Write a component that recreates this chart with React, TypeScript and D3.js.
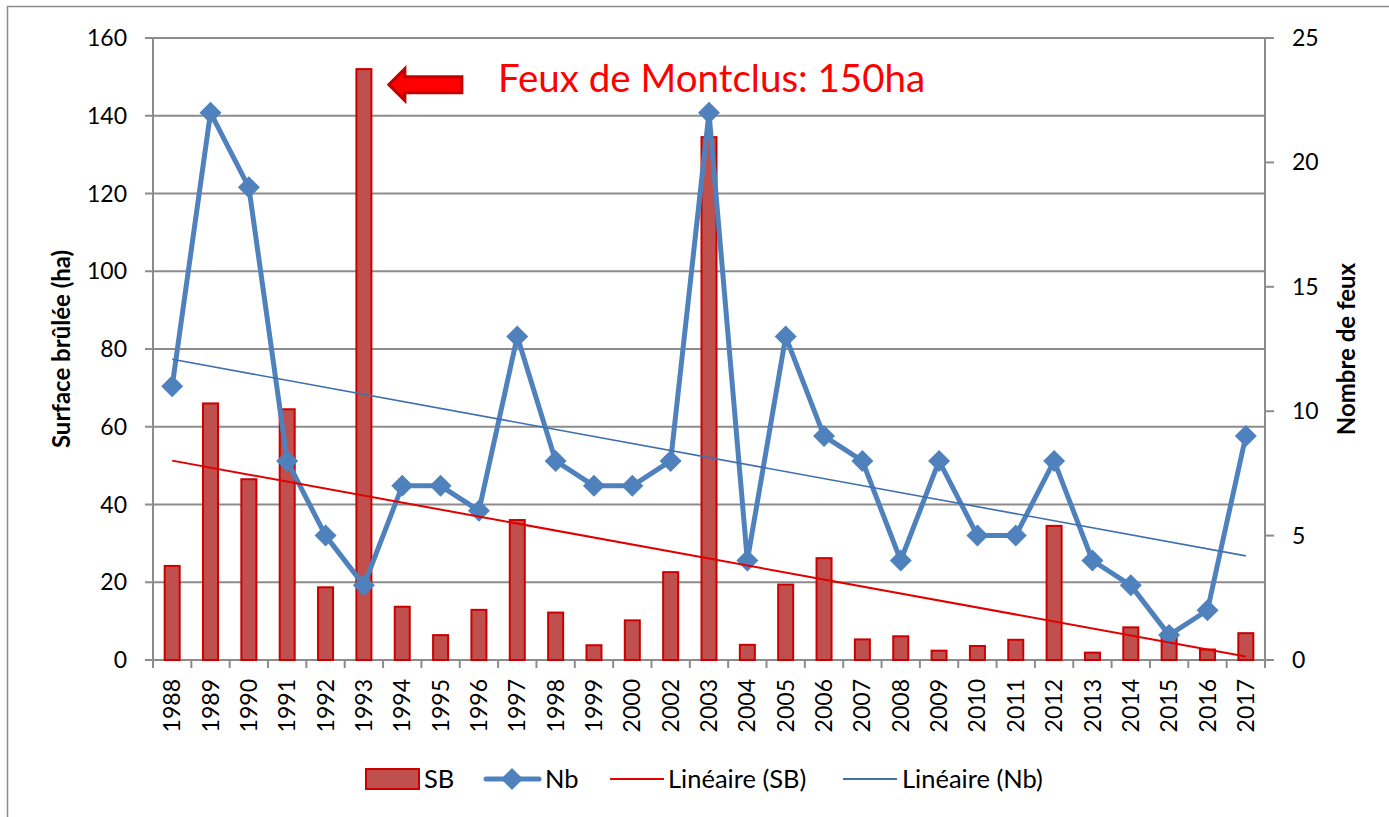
import { useEffect, useRef } from "react"
import * as d3 from "d3"

const years = [
  "1988", "1989", "1990", "1991", "1992", "1993", "1994", "1995", "1996", "1997",
  "1998", "1999", "2000", "2002", "2003", "2004", "2005", "2006", "2007", "2008",
  "2009", "2010", "2011", "2012", "2013", "2014", "2015", "2016", "2017",
]
// surface brûlée (ha)
const sb = [
  24.2, 66, 46.5, 64.5, 18.7, 152, 13.7, 6.4, 12.9, 36,
  12.2, 3.8, 10.2, 22.6, 134.5, 3.9, 19.4, 26.2, 5.3, 6.1,
  2.4, 3.6, 5.2, 34.5, 1.9, 8.4, 6.3, 2.7, 6.9,
]
// nombre de feux
const nb = [
  11, 22, 19, 8, 5, 3, 7, 7, 6, 13,
  8, 7, 7, 8, 22, 4, 13, 9, 8, 4,
  8, 5, 5, 8, 4, 3, 1, 2, 9,
]
const leftTicks = [0, 20, 40, 60, 80, 100, 120, 140, 160]
const rightTicks = [0, 5, 10, 15, 20, 25]

const W = 1389
const H = 817
const FONT = "Lato, 'Open Sans', sans-serif"

// least squares fit over the category index (like Excel's trendline)
function linFit(vals: number[]) {
  const n = vals.length
  const xs = vals.map((_, i) => i)
  const mx = d3.mean(xs) as number
  const my = d3.mean(vals) as number
  let num = 0
  let den = 0
  xs.forEach((x, i) => {
    num += (x - mx) * (vals[i] - my)
    den += (x - mx) * (x - mx)
  })
  const b = num / den
  const a = my - b * mx
  return [a, a + b * (n - 1)]
}

const App = () => {
  const ref = useRef<SVGSVGElement>(null)

  useEffect(() => {
    const svg = d3.select(ref.current)
    svg.selectAll("*").remove()

    const m = { top: 38, right: 124, bottom: 157, left: 153 }
    const x = d3.scaleBand().domain(years).range([m.left, W - m.right])
    const yL = d3.scaleLinear().domain([0, 160]).range([H - m.bottom, m.top])
    const yR = d3.scaleLinear().domain([0, 25]).range([H - m.bottom, m.top])
    const cx = (y: string) => (x(y) as number) + x.bandwidth() / 2
    const grey = "#8c8c8c"

    // frame
    svg.append("rect")
      .attr("x", 7.5).attr("y", 6.5)
      .attr("width", W + 20).attr("height", H + 20)
      .attr("fill", "#fff").attr("stroke", grey).attr("stroke-width", 1.5)

    // gridlines
    svg.append("g")
      .selectAll("line")
      .data(leftTicks)
      .join("line")
      .attr("x1", m.left - 8).attr("x2", W - m.right)
      .attr("y1", (d) => yL(d)).attr("y2", (d) => yL(d))
      .attr("stroke", grey).attr("stroke-width", 2)

    // axes lines
    svg.append("line")
      .attr("x1", m.left).attr("x2", m.left)
      .attr("y1", yL(160)).attr("y2", yL(0))
      .attr("stroke", grey).attr("stroke-width", 2)
    svg.append("line")
      .attr("x1", W - m.right).attr("x2", W - m.right)
      .attr("y1", yR(25)).attr("y2", yR(0))
      .attr("stroke", grey).attr("stroke-width", 2)
    svg.append("g")
      .selectAll("line")
      .data(rightTicks)
      .join("line")
      .attr("x1", W - m.right).attr("x2", W - m.right + 9)
      .attr("y1", (d) => yR(d)).attr("y2", (d) => yR(d))
      .attr("stroke", grey).attr("stroke-width", 2)
    // category ticks
    svg.append("g")
      .selectAll("line")
      .data(d3.range(years.length + 1))
      .join("line")
      .attr("x1", (i) => m.left + i * x.bandwidth())
      .attr("x2", (i) => m.left + i * x.bandwidth())
      .attr("y1", yL(0)).attr("y2", yL(0) + 8)
      .attr("stroke", grey).attr("stroke-width", 2)

    // tick labels
    svg.append("g")
      .selectAll("text")
      .data(leftTicks)
      .join("text")
      .attr("x", 127).attr("y", (d) => yL(d))
      .attr("dy", "0.35em")
      .attr("text-anchor", "end")
      .attr("font-family", FONT).attr("font-size", 23)
      .text((d) => d)
    svg.append("g")
      .selectAll("text")
      .data(rightTicks)
      .join("text")
      .attr("x", 1292).attr("y", (d) => yR(d))
      .attr("dy", "0.35em")
      .attr("font-family", FONT).attr("font-size", 23)
      .text((d) => d)
    svg.append("g")
      .selectAll("text")
      .data(years)
      .join("text")
      .attr("transform", (d) => `translate(${cx(d)}, ${yL(0) + 19}) rotate(-90)`)
      .attr("dy", "0.35em")
      .attr("text-anchor", "end")
      .attr("font-family", FONT).attr("font-size", 23)
      .text((d) => d)

    // axis titles
    const midY = (yL(0) + yL(160)) / 2
    svg.append("text")
      .attr("transform", `translate(62, ${midY}) rotate(-90)`)
      .attr("dy", "0.35em").attr("text-anchor", "middle")
      .attr("font-family", FONT).attr("font-size", 24).attr("font-weight", "bold")
      .text("Surface brûlée (ha)")
    svg.append("text")
      .attr("transform", `translate(1347, ${midY}) rotate(-90)`)
      .attr("dy", "0.35em").attr("text-anchor", "middle")
      .attr("font-family", FONT).attr("font-size", 24).attr("font-weight", "bold")
      .text("Nombre de feux")

    // bars
    const bw = 15
    svg.append("g")
      .selectAll("rect")
      .data(years)
      .join("rect")
      .attr("x", (d) => cx(d) - bw / 2)
      .attr("y", (_, i) => yL(sb[i]))
      .attr("width", bw)
      .attr("height", (_, i) => yL(0) - yL(sb[i]))
      .attr("fill", "#c0504d")
      .attr("stroke", "#cc0000").attr("stroke-width", 2)

    // Nb line + diamonds
    const line = d3.line<string>()
      .x((d) => cx(d))
      .y((_, i) => yR(nb[i]))
    svg.append("path")
      .attr("d", line(years))
      .attr("fill", "none")
      .attr("stroke", "#4f81bd").attr("stroke-width", 5)
      .attr("stroke-linejoin", "round")
    const dm = 11
    svg.append("g")
      .selectAll("path")
      .data(years)
      .join("path")
      .attr("transform", (d, i) => `translate(${cx(d)}, ${yR(nb[i])})`)
      .attr("d", `M0,${-dm}L${dm},0L0,${dm}L${-dm},0Z`)
      .attr("fill", "#4f81bd")

    // trendlines
    const first = years[0]
    const last = years[years.length - 1]
    const [s0, s1] = linFit(sb)
    const [n0, n1] = linFit(nb)
    svg.append("line")
      .attr("x1", cx(first)).attr("x2", cx(last))
      .attr("y1", yL(s0)).attr("y2", yL(s1))
      .attr("stroke", "#e00000").attr("stroke-width", 2)
    svg.append("line")
      .attr("x1", cx(first)).attr("x2", cx(last))
      .attr("y1", yR(n0)).attr("y2", yR(n1))
      .attr("stroke", "#3f6fad").attr("stroke-width", 1.6)

    // annotation for 1993
    const tx = cx("1993") + 25
    const ty = yL(148)
    svg.append("path")
      .attr("d", `M${tx},${ty}L${tx + 16},${ty - 16}L${tx + 16},${ty - 8}L${tx + 73},${ty - 8}L${tx + 73},${ty + 8}L${tx + 16},${ty + 8}L${tx + 16},${ty + 16}Z`)
      .attr("fill", "#ff0000")
      .attr("stroke", "#c00000").attr("stroke-width", 3)
      .attr("stroke-linejoin", "miter")
    svg.append("text")
      .attr("x", tx + 109).attr("y", 92)
      .attr("fill", "#ff0000")
      .attr("font-family", FONT).attr("font-size", 38.5)
      .text("Feux de Montclus: 150ha")

    // legend
    const ly = 779
    const lg = svg.append("g").attr("font-family", FONT).attr("font-size", 25.5)
    lg.append("rect")
      .attr("x", 366).attr("y", ly - 10).attr("width", 53).attr("height", 20)
      .attr("fill", "#c0504d").attr("stroke", "#cc0000").attr("stroke-width", 2)
    lg.append("text").attr("x", 424).attr("y", ly).attr("dy", "0.35em").text("SB")
    lg.append("line")
      .attr("x1", 486).attr("x2", 539).attr("y1", ly).attr("y2", ly)
      .attr("stroke", "#4f81bd").attr("stroke-width", 5).attr("stroke-linecap", "round")
    lg.append("path")
      .attr("transform", `translate(512, ${ly})`)
      .attr("d", `M0,${-dm}L${dm},0L0,${dm}L${-dm},0Z`)
      .attr("fill", "#4f81bd")
    lg.append("text").attr("x", 545).attr("y", ly).attr("dy", "0.35em").text("Nb")
    lg.append("line")
      .attr("x1", 610).attr("x2", 664).attr("y1", ly).attr("y2", ly)
      .attr("stroke", "#e00000").attr("stroke-width", 2)
    lg.append("text").attr("x", 668).attr("y", ly).attr("dy", "0.35em").text("Linéaire (SB)")
    lg.append("line")
      .attr("x1", 843).attr("x2", 897).attr("y1", ly).attr("y2", ly)
      .attr("stroke", "#3f6fad").attr("stroke-width", 2)
    lg.append("text").attr("x", 902).attr("y", ly).attr("dy", "0.35em").text("Linéaire (Nb)")
  }, [])

  return (
    <svg
      ref={ref}
      width={W}
      height={H}
      viewBox={`0 0 ${W} ${H}`}
      style={{ position: "absolute", left: 0, top: 0 }}
    />
  )
}

export default App
